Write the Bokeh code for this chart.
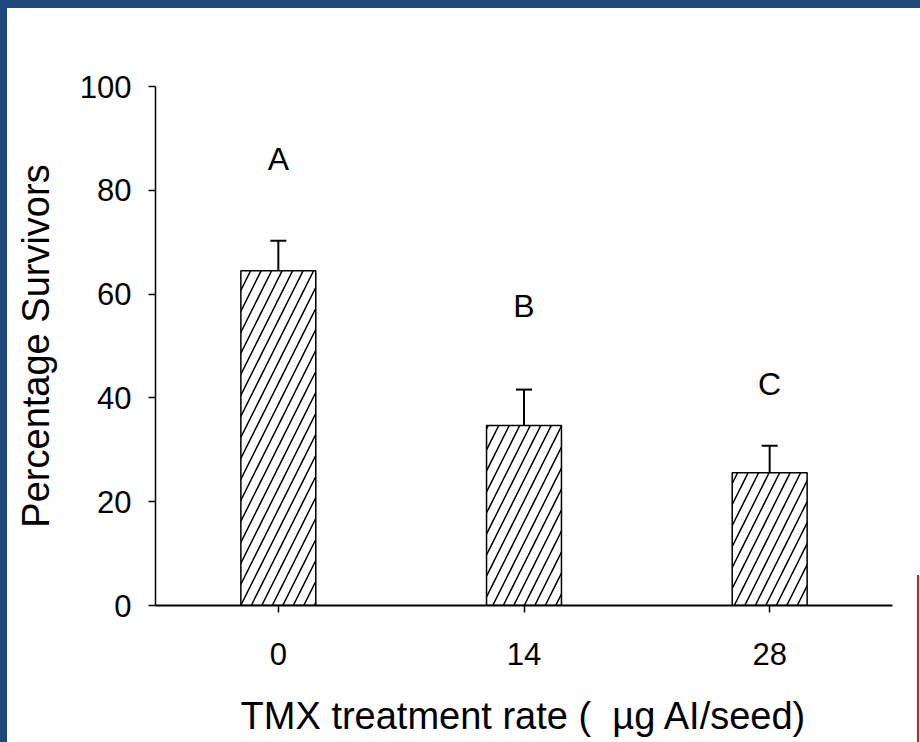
import re
from bokeh.plotting import figure
from bokeh.models import ColumnDataSource, Whisker, TeeHead, FactorRange, Range1d, FixedTicker
from bokeh.core.properties import value
from bokeh.embed import file_html
from bokeh.resources import INLINE

# ---- data ----
categories = ["0", "14", "28"]
means = [64.5, 34.7, 25.6]
errors = [5.8, 6.9, 5.2]
letters = ["A", "B", "C"]
letter_y = [86.0, 57.8, 42.6]
y_ticks = [0, 20, 40, 60, 80, 100]

FONT = "Liberation Sans"

src = ColumnDataSource(dict(
    cat=categories,
    mean=means,
    upper=[m + e for m, e in zip(means, errors)],
    letter=letters,
    ly=letter_y,
))

p = figure(
    x_range=FactorRange(*categories),
    y_range=Range1d(0, 100),
    width=912, height=734,
    output_backend="svg", toolbar_location=None,
    min_border_left=147, min_border_right=28,
    min_border_top=78, min_border_bottom=137,
)
p.outline_line_color = None
p.xgrid.visible = False
p.ygrid.visible = False
p.background_fill_color = "white"
p.border_fill_color = None

p.vbar(x="cat", top="mean", width=0.305, source=src,
       fill_color="white", line_color="black", line_width=1.5,
       hatch_pattern="/", hatch_color="black", hatch_scale=21, hatch_weight=1.5)

w = Whisker(base="cat", lower="mean", upper="upper", source=src,
            line_color="black", line_width=2,
            lower_head=None,
            upper_head=TeeHead(size=16, line_color="black", line_width=2))
p.add_layout(w)

p.text(x="cat", y="ly", text="letter", source=src,
       text_font=value(FONT), text_font_size=value("32px"),
       text_align="center", text_baseline="middle", text_color="black")

# y axis
ya = p.yaxis[0]
ya.ticker = FixedTicker(ticks=y_ticks)
ya.minor_tick_line_color = None
ya.major_tick_in = 0
ya.major_tick_out = 7
ya.major_tick_line_width = 1.5
ya.axis_line_width = 1.5
ya.major_label_text_font = FONT
ya.major_label_text_font_size = "31px"
ya.major_label_text_color = "black"
ya.major_label_standoff = 17
ya.axis_label = "Percentage Survivors"
ya.axis_label_text_font = FONT
ya.axis_label_text_font_size = "38px"
ya.axis_label_text_font_style = "normal"
ya.axis_label_text_color = "black"
ya.axis_label_standoff = 20

# x axis
xa = p.xaxis[0]
xa.major_tick_in = 0
xa.major_tick_out = 7
xa.major_tick_line_width = 1.5
xa.axis_line_width = 2
xa.major_label_text_font = FONT
xa.major_label_text_font_size = "31px"
xa.major_label_text_color = "black"
xa.major_label_standoff = 30
xa.axis_label = "TMX treatment rate (\u00a0\u00a0\u00b5g AI/seed)"
xa.axis_label_text_font = FONT
xa.axis_label_text_font_size = "38px"
xa.axis_label_text_font_style = "normal"
xa.axis_label_text_color = "black"
xa.axis_label_standoff = 27

html = file_html(p, INLINE)
css = ("<style>html{overflow:hidden;}"
       "body{margin:0 !important;padding:8px 0 0 8px !important;box-sizing:border-box;"
       "background:"
       "linear-gradient(#1f497d,#1f497d) 0 0/100% 8px no-repeat,"
       "linear-gradient(#1f497d,#1f497d) 0 0/7px 100% no-repeat,"
       "linear-gradient(#e8141c,#e8141c) 917px 575px/2px 200px no-repeat,"
       "#ffffff !important;}</style>")
html = re.sub(r"</head>", css + "</head>", html, count=1)
open("out.html", "w").write(html)
